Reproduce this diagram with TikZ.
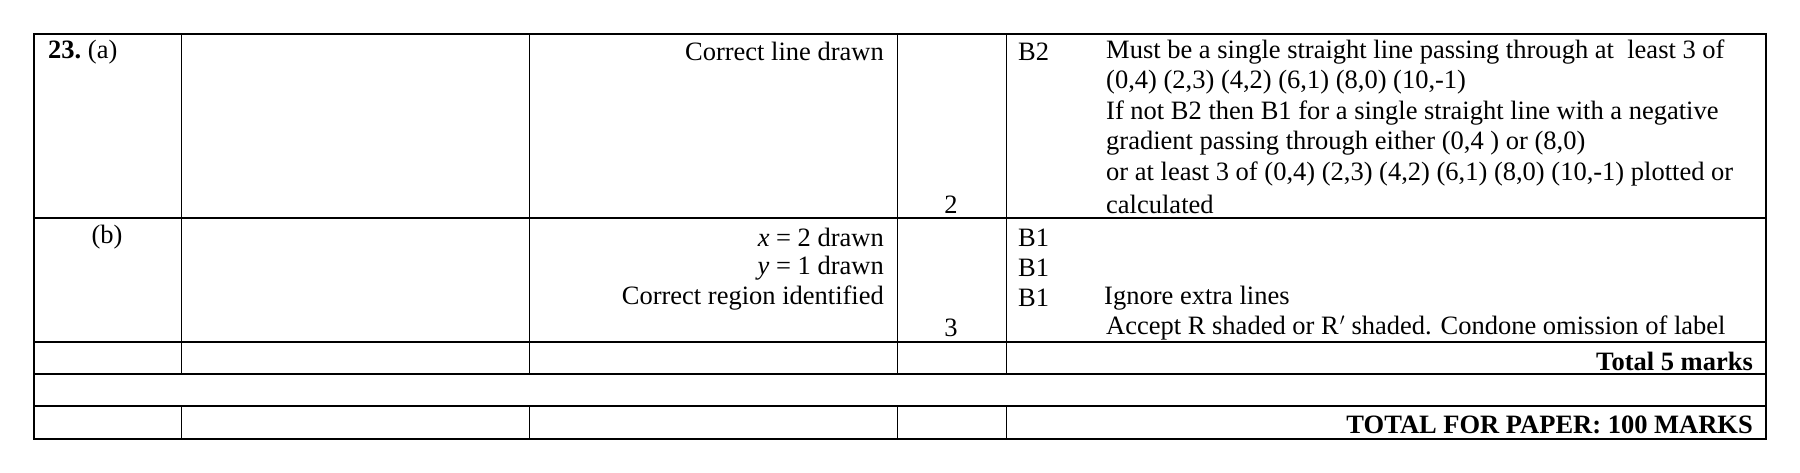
\documentclass[tikz,border=0pt]{standalone}
\usepackage{fontspec}
\setmainfont{Liberation Serif}
\usetikzlibrary{positioning}
\begin{document}
\begin{tikzpicture}[x=1pt, y=-1pt, font=\fontsize{26.5}{30}\selectfont,
  txt/.style={inner sep=0pt, anchor=west},
  rtxt/.style={inner sep=0pt, anchor=east},
  ctxt/.style={inner sep=0pt}]
\useasboundingbox (0,0) rectangle (1800,472);

% grid
\draw[line width=1.6pt] (34,34) rectangle (1766,439);
\foreach \y in {218,342,374,406}
  \draw[line width=1.3pt] (34,\y) -- (1766,\y);
\foreach \x in {181,529,897,1006} {
  \draw[line width=0.8pt] (\x,34) -- (\x,374);
  \draw[line width=0.8pt] (\x,406) -- (\x,439);
}

% part (a)
\node[txt] (q) at (48,51.7) {\textbf{23.}~(a)};
\node[rtxt] (a1) at (884,51.7) {Correct line drawn};
\node[ctxt] (am) at (951,204.3) {2};
\node[txt] (ab) at (1018,51.7) {B2};
\node[txt] (c1) at (1106,51.7) {Must be a single straight line passing through at\ \ least 3 of};
\node[txt] (c2) at (1106,82) {(0,4) (2,3) (4,2) (6,1) (8,0) (10,-1)};
\node[txt] (c3) at (1106,113) {If not B2 then B1 for a single straight line with a negative};
\node[txt] (c4) at (1106,143.5) {gradient passing through either (0,4 ) or (8,0)};
\node[txt] (c5) at (1106,174) {or at least 3 of (0,4) (2,3) (4,2) (6,1) (8,0) (10,-1) plotted or};
\node[txt] (c6) at (1106,204.3) {calculated};

% part (b)
\node[ctxt] (p) at (107,237.6) {(b)};
\node[rtxt] (b1) at (884,237.6) {\textit{x} = 2 drawn};
\node[rtxt] (b2) at (884,267.9) {\textit{y} = 1 drawn};
\node[rtxt] (b3) at (884,297.9) {Correct region identified};
\node[ctxt] (bm) at (951,328.3) {3};
\node[txt] (bb1) at (1018,237.6) {B1};
\node[txt] (bb2) at (1018,267.9) {B1};
\node[txt] (bb3) at (1018,297.9) {B1};
\node[txt] (d1) at (1104,297.9) {Ignore extra lines};
\node[txt] (d2) at (1106,328.3) {Accept R shaded or R\kern1pt$'$ shaded. Condone omission of label};

% totals
\node[rtxt] (t1) at (1753,361.6) {\textbf{Total 5 marks}};
\node[rtxt] (t2) at (1753,424.6) {\textbf{TOTAL FOR PAPER: 100 MARKS}};
\end{tikzpicture}
\end{document}
